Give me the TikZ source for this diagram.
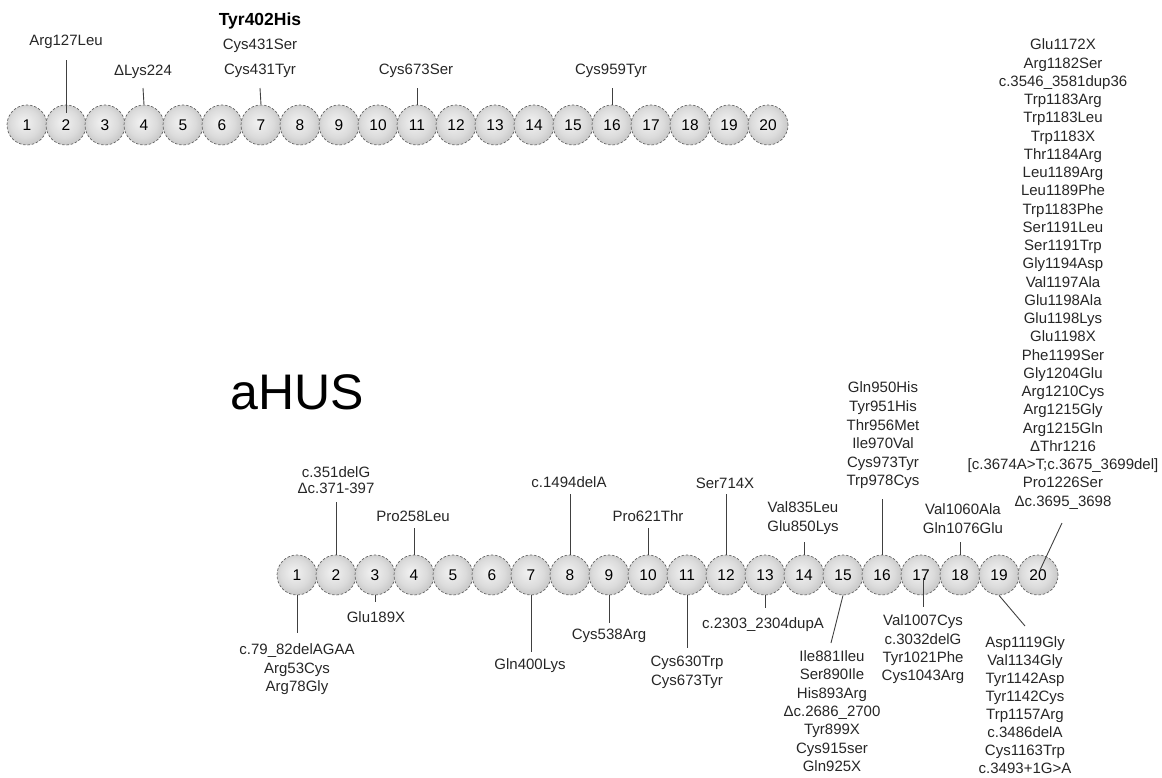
\documentclass[tikz,border=0pt]{standalone}
\usepackage{fontspec}
\setmainfont{Liberation Sans}
\pgfdeclareradialshading{ballshade}{\pgfpoint{-4bp}{4bp}}{color(0bp)=(black!5); color(18bp)=(black!14); color(34bp)=(black!28); color(50bp)=(black!38)}
\tikzset{
  ball/.style={circle, minimum size=40pt, inner sep=0pt, draw=black!60, dash pattern=on 2.5pt off 1.8pt, line width=0.7pt, shading=ballshade, font=\fontsize{15.5}{18}\selectfont, text=black},
  lbl/.style={inner sep=0pt, align=center, text=black!85, font=\fontsize{15}{18.25}\selectfont},
  stem/.style={draw=black!75, line width=0.9pt}
}
\begin{document}
\begin{tikzpicture}[x=1pt,y=-1pt]
\useasboundingbox (0,0) rectangle (1162,777);
% circles
\foreach \i in {1,...,20} {
  \node[ball] (t\i) at ({27+(\i-1)*39},125) {\i};
  \node[ball] (b\i) at ({297+(\i-1)*39},575) {\i};
}
% top labels
\node[lbl] (A) at (66,42) {Arg127Leu};
\coordinate (As) at (66,60); \coordinate (Ae) at (66,113);
\draw[stem] (As) -- (Ae);
\node[lbl] (B) at (143,72) {ΔLys224};
\coordinate (Bs) at (143,88);
\draw[stem] (Bs) -- (t4.north);
\node[lbl, font=\fontsize{17.5}{20}\selectfont\bfseries, text=black] (C0) at (260,21) {Tyr402His};
\node[lbl] (C1) at (260,46) {Cys431Ser};
\node[lbl] (C2) at (260,71) {Cys431Tyr};
\coordinate (Cs) at (260,88);
\draw[stem] (Cs) -- (t7.north);
\node[lbl] (D) at (416,71) {Cys673Ser};
\coordinate (Ds) at (417,88);
\draw[stem] (Ds) -- (t11.north);
\node[lbl] (E) at (611,71) {Cys959Tyr};
\coordinate (Es) at (612,88);
\draw[stem] (Es) -- (t16.north);
% title
\node[inner sep=0pt, font=\fontsize{50}{60}\selectfont, text=black] (title) at (297,392) {aHUS};
% right column
\node[lbl] (Z) at (1063,274) {Glu1172X\\Arg1182Ser\\c.3546\_3581dup36\\Trp1183Arg\\Trp1183Leu\\Trp1183X\\Thr1184Arg\\Leu1189Arg\\Leu1189Phe\\Trp1183Phe\\Ser1191Leu\\Ser1191Trp\\Gly1194Asp\\Val1197Ala\\Glu1198Ala\\Glu1198Lys\\Glu1198X\\Phe1199Ser\\Gly1204Glu\\Arg1210Cys\\Arg1215Gly\\Arg1215Gln\\ΔThr1216\\{[c.3674A>T;c.3675\_3699del]}\\Pro1226Ser\\Δc.3695\_3698};
\coordinate (Zs) at (1062,523); \coordinate (Ze) at (1040,570);
\draw[stem] (Zs) -- (Ze);
% bottom, above
\node[lbl, font=\fontsize{15}{16}\selectfont] (F) at (336,480) {c.351delG\\Δc.371-397};
\coordinate (Fs) at (336,502);
\draw[stem] (Fs) -- (b2.north);
\node[lbl] (G) at (413,516) {Pro258Leu};
\coordinate (Gs) at (414,528);
\draw[stem] (Gs) -- (b4.north);
\node[lbl] (H) at (569,482) {c.1494delA};
\coordinate (Hs) at (570,494);
\draw[stem] (Hs) -- (b8.north);
\node[lbl] (I) at (648,516) {Pro621Thr};
\coordinate (Is) at (648,528);
\draw[stem] (Is) -- (b10.north);
\node[lbl] (J) at (725,483) {Ser714X};
\coordinate (Js) at (726,494);
\draw[stem] (Js) -- (b12.north);
\node[lbl, font=\fontsize{15}{19}\selectfont] (K) at (803,518.5) {Val835Leu\\Glu850Lys};
\coordinate (Ks) at (804,542);
\draw[stem] (Ks) -- (b14.north);
\node[lbl, font=\fontsize{15}{18.6}\selectfont] (L) at (883,435.5) {Gln950His\\Tyr951His\\Thr956Met\\Ile970Val\\Cys973Tyr\\Trp978Cys};
\coordinate (Ls) at (882,499);
\draw[stem] (Ls) -- (b16.north);
\node[lbl, font=\fontsize{15}{19}\selectfont] (M) at (963,518.5) {Val1060Ala\\Gln1076Glu};
\coordinate (Ms) at (960,542);
\draw[stem] (Ms) -- (b18.north);
% bottom, below
\node[lbl, font=\fontsize{15}{18.5}\selectfont] (N) at (297,669.5) {c.79\_82delAGAA\\Arg53Cys\\Arg78Gly};
\coordinate (Ne) at (297,633);
\draw[stem] (b1.south) -- (Ne);
\node[lbl] (O) at (376,617) {Glu189X};
\coordinate (Oe) at (375,602);
\draw[stem] (b3.south) -- (Oe);
\node[lbl] (P) at (530,666) {Gln400Lys};
\coordinate (Pe) at (531,652);
\draw[stem] (b7.south) -- (Pe);
\node[lbl] (Q) at (609,636) {Cys538Arg};
\coordinate (Qe) at (609,623);
\draw[stem] (b9.south) -- (Qe);
\node[lbl, font=\fontsize{15}{19}\selectfont] (R) at (687,672.5) {Cys630Trp\\Cys673Tyr};
\coordinate (Re) at (687,648);
\draw[stem] (b11.south) -- (Re);
\node[lbl] (S) at (763,625) {c.2303\_2304dupA};
\coordinate (Se) at (765,608);
\draw[stem] (b13.south) -- (Se);
\node[lbl, font=\fontsize{15}{18.33}\selectfont] (T) at (832,711) {Ile881Ileu\\Ser890Ile\\His893Arg\\Δc.2686\_2700\\Tyr899X\\Cys915ser\\Gln925X};
\coordinate (Te) at (831,643);
\draw[stem] (b15.south) -- (Te);
\node[lbl, font=\fontsize{15}{18.33}\selectfont] (U) at (923,649.5) {Val1007Cys\\c.3032delG\\Tyr1021Phe\\Cys1043Arg};
\coordinate (Us) at (923,578); \coordinate (Ue) at (923,607);
\draw[stem] (Us) -- (Ue);
\node[lbl, font=\fontsize{15}{18.0}\selectfont] (V) at (1025,705.5) {Asp1119Gly\\Val1134Gly\\Tyr1142Asp\\Tyr1142Cys\\Trp1157Arg\\c.3486delA\\Cys1163Trp\\c.3493+1G>A};
\coordinate (Ve) at (1025,626);
\draw[stem] (b19.south) -- (Ve);
\end{tikzpicture}
\end{document}
